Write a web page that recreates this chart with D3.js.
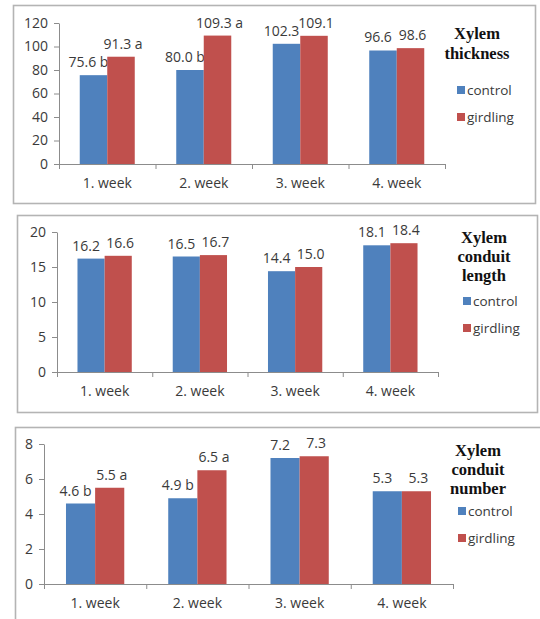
<!DOCTYPE html>
<html>
<head>
<meta charset="utf-8">
<script src="https://cdn.jsdelivr.net/npm/d3@7"></script>
<style>
  html, body { margin: 0; padding: 0; background: #ffffff; }
  svg { display: block; }
</style>
</head>
<body>
<svg id="chart" width="540" height="619"></svg>
<script>
// ---------------- DATA ----------------
const weeks = ["1. week", "2. week", "3. week", "4. week"];
const seriesNames = ["control", "girdling"];

const thicknessControl  = [75.6, 80.0, 102.3, 96.6];
const thicknessGirdling = [91.3, 109.3, 109.1, 98.6];
const thicknessControlSig  = ["b", "b", "", ""];
const thicknessGirdlingSig = ["a", "a", "", ""];
const thicknessTicks = [0, 20, 40, 60, 80, 100, 120];

const lengthControl  = [16.2, 16.5, 14.4, 18.1];
const lengthGirdling = [16.6, 16.7, 15.0, 18.4];
const lengthControlSig  = ["", "", "", ""];
const lengthGirdlingSig = ["", "", "", ""];
const lengthTicks = [0, 5, 10, 15, 20];

const numberControl  = [4.6, 4.9, 7.2, 5.3];
const numberGirdling = [5.5, 6.5, 7.3, 5.3];
const numberControlSig  = ["b", "b", "", ""];
const numberGirdlingSig = ["a", "a", "", ""];
const numberTicks = [0, 2, 4, 6, 8];

const thicknessTitle = ["Xylem", "thickness"];
const lengthTitle = ["Xylem", "conduit", "length"];
const numberTitle = ["Xylem", "conduit", "number"];

// ---------------- STYLE / LAYOUT ----------------
const colors = ["#4F81BD", "#C0504D"];
const textColor = "#3a3a3a";
const axisColor = "#8c8c8c";
const sansFont = "'Open Sans', 'Liberation Sans', sans-serif";
const serifFont = "'Liberation Serif', 'DejaVu Serif', serif";

const panels = [
  {
    frame: {x: 13, y: 5, w: 522, h: 198},
    plot: {left: 59, right: 445, top: 23, bottom: 164},
    ticks: thicknessTicks,
    control: thicknessControl, girdling: thicknessGirdling,
    cSig: thicknessControlSig, gSig: thicknessGirdlingSig,
    title: thicknessTitle, titleX: 477, titleY: 33, titleStep: 20,
    legX: 457, legY: [90, 117]
  },
  {
    frame: {x: 17, y: 215, w: 520, h: 197},
    plot: {left: 57, right: 438, top: 232, bottom: 372},
    ticks: lengthTicks,
    control: lengthControl, girdling: lengthGirdling,
    cSig: lengthControlSig, gSig: lengthGirdlingSig,
    title: lengthTitle, titleX: 484, titleY: 237, titleStep: 19,
    legX: 463, legY: [301, 328]
  },
  {
    frame: {x: 15, y: 427, w: 540, h: 220},
    plot: {left: 44, right: 453, top: 444, bottom: 584},
    ticks: numberTicks,
    control: numberControl, girdling: numberGirdling,
    cSig: numberControlSig, gSig: numberGirdlingSig,
    title: numberTitle, titleX: 478, titleY: 450, titleStep: 19,
    legX: 458, legY: [511, 538]
  }
];

const svg = d3.select("#chart");
svg.append("rect").attr("width", 540).attr("height", 619).attr("fill", "#fff");

panels.forEach(p => {
  const g = svg.append("g");

  // frame
  g.append("rect")
    .attr("x", p.frame.x + 0.5).attr("y", p.frame.y + 0.5)
    .attr("width", p.frame.w).attr("height", p.frame.h)
    .attr("fill", "#fff")
    .attr("stroke", "#b4b4b4").attr("stroke-width", 1.6);

  const yMax = p.ticks[p.ticks.length - 1];
  const y = d3.scaleLinear().domain([0, yMax]).range([p.plot.bottom, p.plot.top]);
  const x = d3.scaleBand().domain(weeks).range([p.plot.left, p.plot.right]).padding(0);
  const bw = x.bandwidth();
  const groupW = bw * 0.57;
  const barW = groupW / 2;

  // y axis
  const yAxis = g.append("g")
    .attr("transform", `translate(${p.plot.left},0)`)
    .call(d3.axisLeft(y).tickValues(p.ticks).tickSize(5).tickPadding(6).tickSizeOuter(0));
  yAxis.select(".domain").attr("stroke", axisColor);
  yAxis.selectAll(".tick line").attr("stroke", axisColor);
  yAxis.selectAll(".tick text")
    .attr("fill", textColor).style("font-family", sansFont).style("font-size", "14px");

  // bars
  const rows = weeks.map((w, i) => ({
    week: w,
    vals: [p.control[i], p.girdling[i]],
    sig: [p.cSig[i], p.gSig[i]]
  }));

  rows.forEach(r => {
    const x0 = x(r.week) + (bw - groupW) / 2;
    r.vals.forEach((v, k) => {
      g.append("rect")
        .attr("x", x0 + k * barW)
        .attr("y", y(v))
        .attr("width", barW)
        .attr("height", y(0) - y(v))
        .attr("fill", colors[k]);
      const label = v.toFixed(1) + (r.sig[k] ? " " + r.sig[k] : "");
      g.append("text")
        .attr("x", x0 + k * barW + barW / 2 + (k === 0 ? -5 : 2))
        .attr("y", y(v) - 8)
        .attr("text-anchor", "middle")
        .attr("fill", textColor)
        .style("font-family", sansFont).style("font-size", "14px")
        .text(label);
    });
  });

  // x axis
  const xAxis = g.append("g")
    .attr("transform", `translate(0,${p.plot.bottom})`)
    .call(d3.axisBottom(x).tickSize(0).tickPadding(14));
  xAxis.select(".domain").attr("stroke", axisColor);
  xAxis.selectAll(".tick text")
    .attr("fill", textColor).style("font-family", sansFont).style("font-size", "14px");
  const bounds = weeks.map(w => x(w)).concat([x.range()[1]]);
  g.selectAll(".xb").data(bounds).enter().append("line")
    .attr("x1", d => d + 0.5).attr("x2", d => d + 0.5)
    .attr("y1", p.plot.bottom).attr("y2", p.plot.bottom + 5)
    .attr("stroke", axisColor);

  // legend title
  p.title.forEach((t, i) => {
    g.append("text")
      .attr("x", p.titleX)
      .attr("y", p.titleY + i * p.titleStep)
      .attr("dy", "0.35em")
      .attr("text-anchor", "middle")
      .attr("fill", "#111")
      .style("font-family", serifFont).style("font-size", "16.5px").style("font-weight", "bold")
      .text(t);
  });

  // legend items
  seriesNames.forEach((s, k) => {
    g.append("rect")
      .attr("x", p.legX).attr("y", p.legY[k] - 4)
      .attr("width", 8).attr("height", 8)
      .attr("fill", colors[k]);
    g.append("text")
      .attr("x", p.legX + 10).attr("y", p.legY[k])
      .attr("dy", "0.35em")
      .attr("fill", textColor)
      .style("font-family", sansFont).style("font-size", "13.5px")
      .text(s);
  });
});
</script>
</body>
</html>
